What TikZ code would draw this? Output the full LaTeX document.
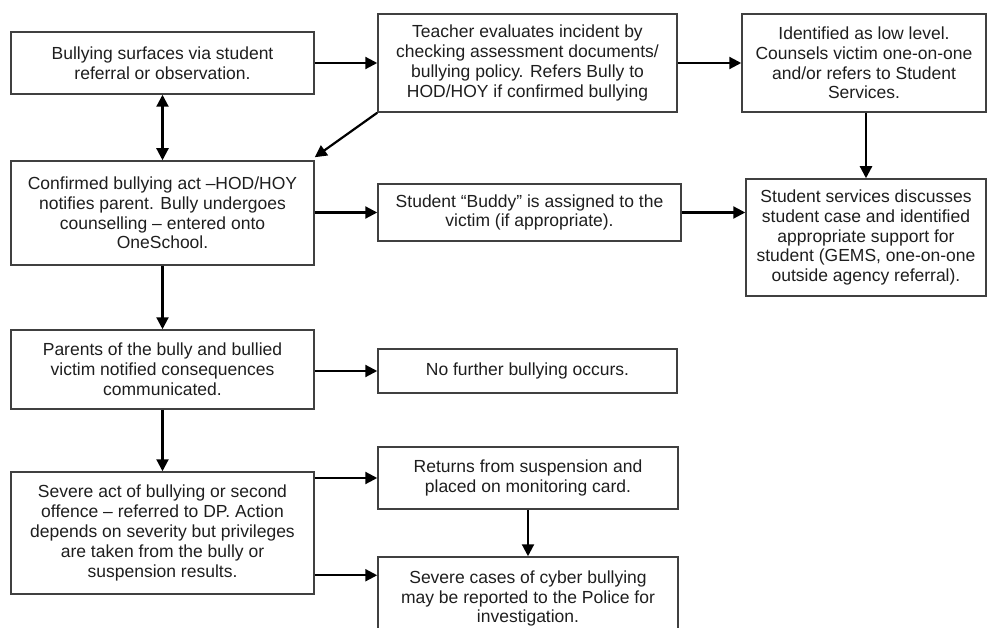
\documentclass[tikz,border=0pt]{standalone}
\usepackage{fontspec}
\setmainfont{Liberation Sans}
\usepackage{tikz}
\usepackage{xcolor}
\usetikzlibrary{shapes,arrows.meta,positioning,calc}
\definecolor{boxGray}{RGB}{64,64,64}
\definecolor{inkBlack}{RGB}{30,30,30}

\begin{document}
\begin{tikzpicture}[x=1pt, y=-1pt,
    box/.style={draw=boxGray, line width=1.5pt, inner sep=0pt, align=center,
                text=inkBlack, font=\fontsize{17.5}{19.8}\selectfont},
    arr/.style={draw=black, line width=2.2pt, -{Triangle[length=12pt,width=12pt]}},
    dblarr/.style={draw=black, line width=2.2pt, {Triangle[length=12pt,width=12pt]}-{Triangle[length=12pt,width=12pt]}}]
                    \useasboundingbox (0,0) rectangle (987,628);
                    % top row
                    \node[box, minimum width=303, minimum height=62] (surface) at (162.5,63) {Bullying surfaces via student\\referral or observation.};
                    \node[box, minimum width=299, minimum height=98] (teacher) at (527.5,63) {Teacher evaluates incident by\\checking assessment documents/\\bullying policy. Refers Bully to\\HOD/HOY if confirmed bullying};
                    \node[box, minimum width=244, minimum height=98] (lowlevel) at (864,63) {Identified as low level.\\Counsels victim one-on-one\\and/or refers to Student\\Services.};
                    
                    % second row
                    \node[box, minimum width=303, minimum height=104] (confirmed) at (162.5,213) {Confirmed bullying act --HOD/HOY\\notifies parent. Bully undergoes\\counselling -- entered onto\\OneSchool.};
                    \node[box, minimum width=303, minimum height=57] (buddy) at (529.5,212.5) {Student \char"201C Buddy\char"201D{} is assigned to the\\victim (if appropriate).};
                    \node[box, minimum width=240, minimum height=117] (services) at (866,237.5) {Student services discusses\\student case and identified\\appropriate support for\\student (GEMS, one-on-one\\outside agency referral).};
                    
                    % lower rows
                    \node[box, minimum width=303, minimum height=79] (parents) at (162.5,369.5) {Parents of the bully and bullied\\victim notified consequences\\communicated.};
                    \node[box, minimum width=299, minimum height=44] (nofurther) at (527.5,371) {No further bullying occurs.};
                    \node[box, minimum width=303, minimum height=122] (severe) at (162.5,533) {Severe act of bullying or second\\offence -- referred to DP. Action\\depends on severity but privileges\\are taken from the bully or\\suspension results.};
                    \node[box, minimum width=300, minimum height=62] (returns) at (528,478) {Returns from suspension and\\placed on monitoring card.};
                    \node[box, minimum width=300, minimum height=83] (police) at (528,598.5) {Severe cases of cyber bullying\\may be reported to the Police for\\investigation.};
                    \coordinate (policein) at ([yshift=-19pt]police.north west);
                    
                    % connectors
                    \draw[arr] (surface.east) -- (teacher.west);
                    \draw[arr] (teacher.east) -- (lowlevel.west);
                    \draw[dblarr] (surface.south) -- (confirmed.north);
                    \draw[arr] (teacher.south west) -- ([yshift=3pt]confirmed.north east);
                    \draw[arr] (lowlevel.south -| services.north) -- (services.north);
                    \draw[arr] (confirmed.east |- buddy.west) -- (buddy.west);
                    \draw[arr] (buddy.east) -- (buddy.east -| services.west);
                    \draw[arr] (confirmed.south) -- (parents.north);
                    \draw[arr] (parents.east |- nofurther.west) -- (nofurther.west);
                    \draw[arr] (parents.south) -- (severe.north);
                    \draw[arr] (severe.east |- returns.west) -- (returns.west);
                    \draw[arr] (severe.east |- policein) -- (policein);
                    \draw[arr] (returns.south) -- (returns.south |- police.north);
                \end{tikzpicture}
\end{document}
